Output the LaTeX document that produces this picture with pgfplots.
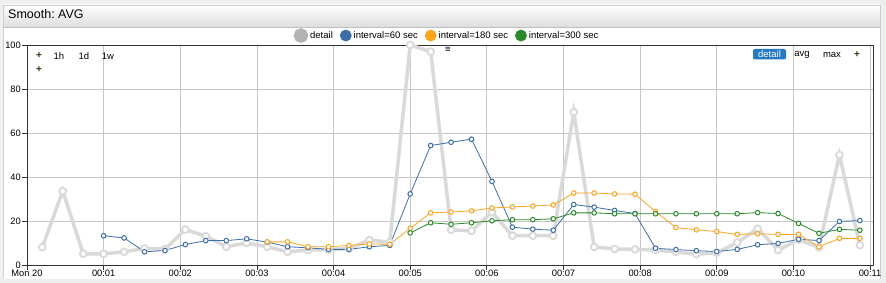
\documentclass[border=0pt]{standalone}
\usepackage{fontspec}
\setmainfont{Liberation Sans}
\usepackage{pgfplots}
\usepackage{pgfplotstable}
\pgfplotsset{compat=1.18}
\frenchspacing
\definecolor{dgray}{HTML}{D9D9D9}
\definecolor{lgray}{HTML}{B3B3B3}
\definecolor{sblue}{HTML}{3D6EA8}
\definecolor{sorange}{HTML}{FDA41E}
\definecolor{sgreen}{HTML}{2A8A2A}
\definecolor{gridc}{HTML}{C6C6C6}
\definecolor{btn}{HTML}{2479C2}
\definecolor{plusc}{HTML}{3A2A10}
\definecolor{pagebg}{HTML}{F0F0F0}
\definecolor{stripc}{HTML}{EEEEEE}
\definecolor{hdrbot}{HTML}{DEDEDE}
\definecolor{hdrline}{HTML}{BEBEBE}
\definecolor{panelline}{HTML}{CDCDCD}
\definecolor{axc}{HTML}{333333}

\pgfplotstableread{
t v
12 8.1
28 33.6
44 5.1
60 5.1
76 6.0
92 7.5
108 7.2
124 16.1
140 13.1
156 8.3
172 10.0
188 8.3
204 6.0
220 6.8
236 7.0
252 7.5
268 11.3
284 10.4
300 100
316 97
332 16.0
348 15.5
364 24.0
380 13.3
396 13.3
412 13.3
428 69.5
444 8.2
460 7.3
476 7.1
492 6.8
508 5.9
524 4.9
540 5.6
556 10.2
572 16.5
588 6.8
604 11.5
620 8.0
636 50.0
652 9.0
}\detail

\pgfplotstableread{
t v
60 13.3
76 12.3
92 6.0
108 6.6
124 9.3
140 11.1
156 11.1
172 11.9
188 10.4
204 8.3
220 7.8
236 7.1
252 7.1
268 8.3
284 8.9
300 32.3
316 54.3
332 55.8
348 57.2
364 38.0
380 17.2
396 16.3
412 15.8
428 27.5
444 26.3
460 24.8
476 23.4
492 7.6
508 7.0
524 6.5
540 6.1
556 7.1
572 9.2
588 9.8
604 11.7
620 11.1
636 19.8
652 20.2
}\sixty

\pgfplotstableread{
t v
188 10.5
204 10.5
220 8.3
236 8.3
252 8.9
268 9.6
284 9.4
300 16.7
316 23.7
332 24.1
348 24.6
364 25.9
380 26.4
396 26.8
412 27.3
428 32.7
444 32.7
460 32.3
476 32.2
492 24.3
508 17.0
524 16.0
540 15.2
556 13.9
572 14.2
588 13.9
604 13.9
620 8.3
636 12.1
652 12.1
}\oneeighty

\pgfplotstableread{
t v
300 14.6
316 19.2
332 18.5
348 19.2
364 20.1
380 20.6
396 20.6
412 21.0
428 23.7
444 23.7
460 23.3
476 23.3
492 23.3
508 23.3
524 23.3
540 23.3
556 23.3
572 23.8
588 23.4
604 18.9
620 14.4
636 16.2
652 15.8
}\threehundred

\begin{document}
\begin{tikzpicture}[x=1pt,y=1pt]
% page background and panel
\fill[pagebg] (0,0) rectangle (886,283);
\fill[white] (3,4) rectangle (880,278);
\shade[top color=white, bottom color=hdrbot] (3,256) rectangle (880,278);
\draw[hdrline] (3,256) -- (880,256);
\draw[panelline] (3,4) rectangle (880,278);
\node[anchor=base west, inner sep=0pt, font=\fontsize{12.5}{14}\selectfont] at (8,264) {Smooth: AVG};

\begin{axis}[
  at={(27pt,18pt)}, anchor=south west,
  scale only axis, width=846pt, height=220pt,
  xmin=0, xmax=662.3, ymin=0, ymax=100,
  xtick={0,60,...,660},
  xticklabels={Mon 20,00:01,00:02,00:03,00:04,00:05,00:06,00:07,00:08,00:09,00:10,00:11},
  ytick={0,20,...,100},
  /pgf/number format/assume math mode=true,
  tick label style={font=\fontsize{9.3}{10}\selectfont},
  xticklabel style={inner sep=1pt, yshift=1pt},
  yticklabel style={inner sep=1pt},
  tick align=outside, xtick pos=bottom, ytick pos=left,
  major tick length=5pt,
  every tick/.style={draw=axc, line width=0.8pt},
  grid=major,
  major grid style={draw=gridc, line width=0.8pt},
  axis line style={draw=axc, line width=0.9pt},
  legend style={at={(0.5,1)}, anchor=south, xshift=-3pt, yshift=1pt, draw=none, fill=none,
    font=\fontsize{9.5}{10}\selectfont, inner sep=1pt,
    /tikz/every even column/.append style={column sep=5pt}},
  legend columns=4,
  legend cell align=left,
]
\addplot[color=dgray, line width=3.5pt, mark=*, mark size=3.4pt,
  mark options={fill=white, draw=dgray, line width=1.8pt},
  legend image code/.code={\fill[lgray] (0.4em,0) circle (5.5pt);}]
  table[x=t,y=v] {\detail};
\addlegendentry{detail}
\addplot[color=sblue, line width=0.8pt, mark=*, mark size=2.3pt,
  mark options={fill=white, draw=sblue, line width=1pt},
  legend image code/.code={\fill[sblue] (0.4em,0) circle (5.5pt);}]
  table[x=t,y=v] {\sixty};
\addlegendentry{interval=60 sec}
\addplot[color=sorange, line width=0.8pt, mark=*, mark size=2.3pt,
  mark options={fill=white, draw=sorange, line width=1pt},
  legend image code/.code={\fill[sorange] (0.4em,0) circle (5.5pt);}]
  table[x=t,y=v] {\oneeighty};
\addlegendentry{interval=180 sec}
\addplot[color=sgreen, line width=0.8pt, mark=*, mark size=2.3pt,
  mark options={fill=white, draw=sgreen, line width=1pt},
  legend image code/.code={\fill[sgreen] (0.4em,0) circle (5.5pt);}]
  table[x=t,y=v] {\threehundred};
\addlegendentry{interval=300 sec}
\end{axis}

% controls overlay
\begin{scope}[every node/.style={font=\fontsize{9.5}{10}\selectfont, inner sep=0pt}]
\node[text=plusc, font=\bfseries\fontsize{10}{10}\selectfont] at (39,227) {+};
\node at (59,227) {1h};
\node at (84,227) {1d};
\node at (108,227) {1w};
\node[text=plusc, font=\bfseries\fontsize{10}{10}\selectfont] at (39,213) {+};
\node at (448,233) {≡};
\fill[btn, rounded corners=2pt] (753,223.5) rectangle (786,234);
\node[text=white] at (769.5,228.7) {detail};
\node at (802,228) {avg};
\node at (832,228) {max};
\node[text=plusc, font=\bfseries\fontsize{10}{10}\selectfont] at (857,228) {+};
\end{scope}

% right and bottom frame strips
\fill[stripc] (880.5,0) rectangle (886,283);
\fill[stripc] (0,0) rectangle (886,3.5);
\end{tikzpicture}
\end{document}
